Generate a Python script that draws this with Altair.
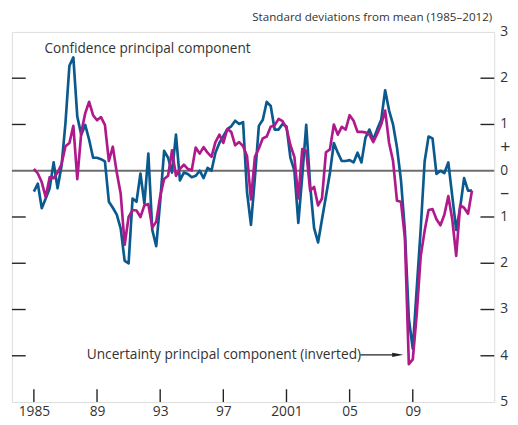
import json
import altair as alt
import pandas as pd

start_year = 1985  # first quarter of 1985, quarterly data to 2012 Q4

confidence = [
    -0.45, -0.28, -0.81, -0.60, -0.38, 0.18, -0.38, 0.10,
    1.03, 2.27, 2.45, 1.17, 0.78, 0.99, 0.67, 0.28,
    0.28, 0.25, 0.20, -0.67, -0.80, -0.95, -1.25, -1.95,
    -2.00, -0.60, -0.67, -0.06, -0.71, 0.37, -1.28, -1.63,
    -0.67, 0.43, 0.28, -0.04, 0.78, -0.21, -0.04, -0.07,
    -0.14, -0.11, 0.00, -0.16, 0.06, 0.00, 0.39, 0.60,
    0.75, 0.90, 0.96, 1.08, 1.01, 1.05, -0.46, -1.17,
    -0.15, 0.97, 1.10, 1.49, 1.40, 0.89, 0.89, 1.01,
    0.96, 0.28, 0.00, -1.13, -0.11, 0.99, -0.32, -1.24,
    -1.55, -1.05, -0.55, -0.05, 0.60, 0.39, 0.21, 0.21,
    0.23, 0.18, 0.39, 0.18, 0.71, 0.89, 0.67, 0.90,
    1.10, 1.74, 1.30, 1.00, 0.50, -0.20, -1.30, -3.20,
    -3.85, -2.55, -1.27, 0.20, 0.74, 0.70, -0.07, 0.00,
    -0.05, 0.18, -0.55, -1.28, -0.80, -0.16, -0.43, -0.43,
]

uncertainty_inverted = [
    0.04, -0.06, -0.25, -0.57, -0.14, -0.16, -0.04, 0.14,
    0.53, 0.60, 0.97, -0.18, 0.82, 1.24, 1.49, 1.20,
    1.09, 1.16, 0.99, 0.21, 0.52, -0.04, -0.50, -1.60,
    -1.00, -0.85, -0.86, -1.00, -0.75, -0.72, -1.23, -1.10,
    -0.55, -0.18, -0.11, 0.44, -0.11, 0.04, 0.13, 0.04,
    0.01, 0.50, 0.37, 0.51, 0.39, 0.30, 0.62, 0.78,
    0.60, 0.90, 0.84, 0.55, 0.62, 0.53, 0.32, -0.62,
    0.30, 0.48, 0.70, 0.74, 0.95, 0.98, 1.12, 1.07,
    0.92, 0.55, 0.30, -0.60, 0.47, 0.43, -0.43, -0.35,
    -0.75, -0.60, 0.40, 0.46, 1.00, 0.78, 0.95, 0.89,
    1.20, 1.08, 0.84, 0.84, 0.83, 0.78, 0.62, 0.80,
    1.00, 1.30, 0.60, 0.21, -0.65, -0.67, -1.45, -4.18,
    -4.08, -3.10, -1.85, -1.30, -0.85, -0.83, -1.05, -1.18,
    -0.95, -0.55, -1.05, -1.84, -0.75, -0.80, -0.93, -0.43,
]

tick_years = [1985, 1989, 1993, 1997, 2001, 2005, 2009]
tick_labels = ["1985", "89", "93", "97", "2001", "05", "09"]
y_tick_values = [2, 1, -1, -2, -3, -4]
right_axis_values = [3, 2, 1, 0.5, 0, -0.5, -1, -2, -3, -4, -5]
right_axis_labels = ["3", "2", "1", "+", "0", "\u2013", "1", "2", "3", "4", "5"]

BLUE = "#0a5a8e"
MAGENTA = "#b0198c"
FONT = "Open Sans"
TEXT = "#333333"

quarters = [start_year + i / 4 for i in range(len(confidence))]
df = pd.DataFrame({
    "date": quarters,
    "confidence": confidence,
    "uncertainty": uncertainty_inverted,
})
ticks_df = pd.DataFrame({"year": tick_years})
yticks_df = pd.DataFrame({"v": y_tick_values})
zero_df = pd.DataFrame({"v": [0]})
right_df = pd.DataFrame({"v": right_axis_values, "label": right_axis_labels})

x_scale = alt.Scale(domain=[1983.61, 2014.16], nice=False, zero=False)
y_scale = alt.Scale(domain=[-5, 3], nice=False, zero=False)

x_label_map = json.dumps({str(y): l for y, l in zip(tick_years, tick_labels)})

x_axis = alt.Axis(
    values=tick_years, ticks=False, domain=False, grid=False, title=None,
    labelExpr=f"{x_label_map}[toString(datum.value)]",
    labelFont=FONT, labelFontSize=14, labelColor=TEXT, labelPadding=3,
    labelFlush=False, labelOverlap=False,
)

base = alt.Chart(df)

zero_line = alt.Chart(zero_df).mark_rule(color="#6e6e6e", strokeWidth=2).encode(
    y=alt.Y("v:Q", scale=y_scale, axis=None),
)

blue_line = base.mark_line(color=BLUE, strokeWidth=2.7, strokeJoin="round").encode(
    x=alt.X("date:Q", scale=x_scale, axis=x_axis),
    y=alt.Y("confidence:Q", scale=y_scale, axis=None),
)
mag_line = base.mark_line(color=MAGENTA, strokeWidth=2.7, strokeJoin="round").encode(
    x=alt.X("date:Q", scale=x_scale),
    y=alt.Y("uncertainty:Q", scale=y_scale),
)

x_ticks = alt.Chart(ticks_df).mark_rule(color="#222222", strokeWidth=1.4).encode(
    x=alt.X("year:Q", scale=x_scale),
    y=alt.value(376), y2=alt.value(363),
)
left_ticks = alt.Chart(yticks_df).mark_rule(color="#222222", strokeWidth=1.4).encode(
    y=alt.Y("v:Q", scale=y_scale),
    x=alt.value(0), x2=alt.value(14),
)
right_ticks = alt.Chart(yticks_df).mark_rule(color="#222222", strokeWidth=1.4).encode(
    y=alt.Y("v:Q", scale=y_scale),
    x=alt.value(476), x2=alt.value(490),
)

right_labels = alt.Chart(right_df).mark_text(
    font=FONT, color=TEXT, align="left", baseline="middle",
).encode(
    y=alt.Y("v:Q", scale=y_scale),
    x=alt.value(496),
    text="label:N",
    size=alt.condition(
        "datum.label == '+' || datum.label == '\u2013'", alt.value(18), alt.value(14)
    ),
)

title_text = alt.Chart(zero_df).mark_text(
    text="Standard deviations from mean (1985\u20132012)", font=FONT, fontSize=11.8,
    color=TEXT, align="right", baseline="middle",
).encode(x=alt.value(488), y=alt.value(-15))

conf_text = alt.Chart(zero_df).mark_text(
    text="Confidence principal component", font=FONT, fontSize=13.8,
    color=TEXT, align="left", baseline="middle",
).encode(x=alt.value(33), y=alt.value(17))

unc_text = alt.Chart(zero_df).mark_text(
    text="Uncertainty principal component (inverted)", font=FONT, fontSize=13.9,
    color=TEXT, align="left", baseline="middle",
).encode(x=alt.value(76), y=alt.value(328))

arrow_line = alt.Chart(zero_df).mark_rule(color="#222222", strokeWidth=1.2).encode(
    x=alt.value(354), x2=alt.value(390), y=alt.value(328),
)
arrow_head = alt.Chart(zero_df).mark_point(
    shape="M-1,-0.38L1,0L-1,0.38Z", filled=True, color="#222222", opacity=1, size=130,
).encode(x=alt.value(392), y=alt.value(328))

chart = alt.layer(
    zero_line, blue_line, mag_line, x_ticks, left_ticks, right_ticks,
    right_labels, title_text, conf_text, unc_text, arrow_line, arrow_head,
).properties(
    width=490, height=376,
    autosize=alt.AutoSizeParams(type="none"),
    padding={"left": 4, "top": 21, "right": 16, "bottom": 20},
).configure_view(
    stroke="#222222", strokeWidth=1.5,
).configure(background="white")

chart.save("out.html", embed_options={"renderer": "svg", "actions": False})
